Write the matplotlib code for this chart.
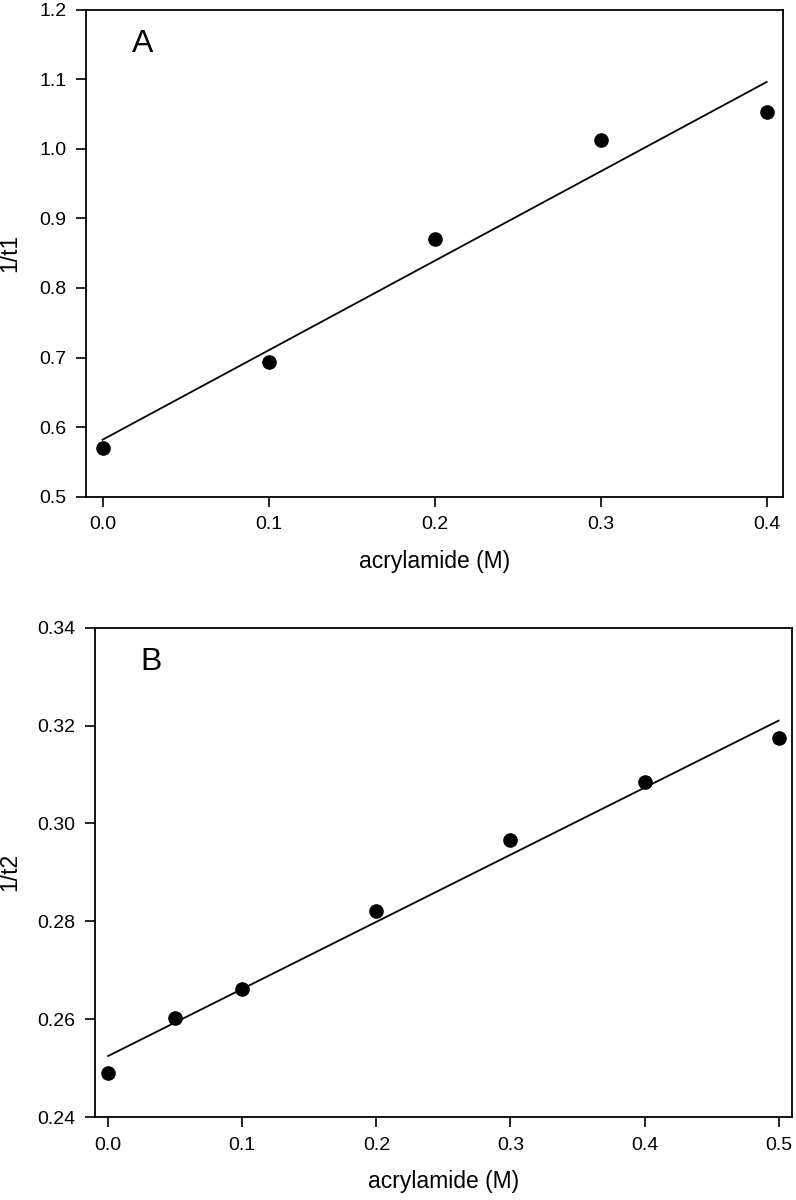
import numpy as np
import matplotlib.pyplot as plt

plt.rcParams['font.family'] = ['Liberation Sans', 'DejaVu Sans']

# Panel A data
conc_a = [0.0, 0.1, 0.2, 0.3, 0.4]
inv_t1 = [0.570, 0.693, 0.870, 1.012, 1.053]
fit_a_x = [0.0, 0.4]
fit_a_y = [0.582, 1.096]

# Panel B data
conc_b = [0.0, 0.05, 0.1, 0.2, 0.3, 0.4, 0.5]
inv_t2 = [0.2491, 0.2603, 0.2662, 0.2822, 0.2966, 0.3085, 0.3175]
fit_b_x = [0.0, 0.5]
fit_b_y = [0.2525, 0.3210]

fig = plt.figure(figsize=(7.96, 12), dpi=100)
ax1 = fig.add_axes([0.108, 0.586, 0.876, 0.406])
ax2 = fig.add_axes([0.119, 0.069, 0.876, 0.408])


def style(ax):
    for s in ax.spines.values():
        s.set_linewidth(1.3)
    ax.tick_params(direction='out', length=7, width=1.2, labelsize=14, pad=7)


ax1.plot(fit_a_x, fit_a_y, 'k-', lw=1.3)
ax1.plot(conc_a, inv_t1, 'ko', ms=9.5)
ax1.set_xlim(-0.01, 0.41)
ax1.set_ylim(0.5, 1.2)
ax1.set_xticks([0.0, 0.1, 0.2, 0.3, 0.4])
ax1.set_yticks(np.arange(0.5, 1.21, 0.1))
ax1.xaxis.set_major_formatter('{x:.1f}')
ax1.yaxis.set_major_formatter('{x:.1f}')
ax1.set_xlabel('acrylamide (M)', fontsize=16.5, labelpad=12)
ax1.set_ylabel('1/t1', fontsize=16.5)
ax1.yaxis.set_label_coords(-0.093, 0.5)
ax1.text(0.066, 0.93, 'A', transform=ax1.transAxes, fontsize=23, va='center')
style(ax1)

ax2.plot(fit_b_x, fit_b_y, 'k-', lw=1.3)
ax2.plot(conc_b, inv_t2, 'ko', ms=9.5)
ax2.set_xlim(-0.01, 0.51)
ax2.set_ylim(0.24, 0.34)
ax2.set_xticks([0.0, 0.1, 0.2, 0.3, 0.4, 0.5])
ax2.set_yticks(np.arange(0.24, 0.341, 0.02))
ax2.xaxis.set_major_formatter('{x:.1f}')
ax2.yaxis.set_major_formatter('{x:.2f}')
ax2.set_xlabel('acrylamide (M)', fontsize=16.5, labelpad=12)
ax2.set_ylabel('1/t2', fontsize=16.5)
ax2.yaxis.set_label_coords(-0.106, 0.5)
ax2.text(0.066, 0.93, 'B', transform=ax2.transAxes, fontsize=23, va='center')
style(ax2)

fig.savefig('out.png', dpi=100)
